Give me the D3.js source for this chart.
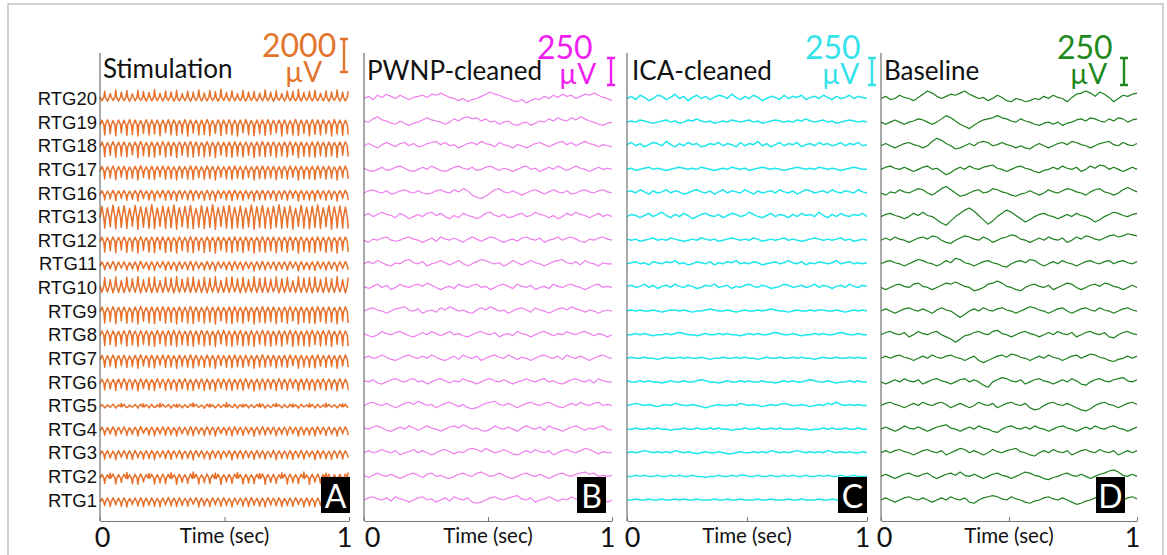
<!DOCTYPE html>
<html><head><meta charset="utf-8">
<script src="https://cdn.jsdelivr.net/npm/d3@7"></script>
<style>body{margin:0;background:#fff}</style>
</head><body>
<svg id="c" width="1167" height="555"></svg>
<script>
// ---------------- DATA ----------------
const channels = ["RTG20","RTG19","RTG18","RTG17","RTG16","RTG13","RTG12","RTG11","RTG10","RTG9","RTG8","RTG7","RTG6","RTG5","RTG4","RTG3","RTG2","RTG1"];
const panelTitles = ["Stimulation","PWNP-cleaned","ICA-cleaned","Baseline"];
const panelLetters = ["A","B","C","D"];
const scaleBarUV = [2000, 250, 250, 250];
const timeDomain = [0, 1];
const tickValues = [0, 0.5, 1];
const tickLabels = ["0", "", "1"];
const axisTitle = "Time (sec)";
const UNIT_UV = 10; // all trace values below are in units of 10 µV
// stimulation traces are stored as 4 samples per stimulation cycle, taken at these fractions of the cycle
const stimSampleFrac = [0, 0.35, 0.7, 0.85];

// Stimulation traces (rows RTG20 ... RTG1)
const stimData = [
[10,-14,8,44,8,-16,10,30,12,-12,10,52,6,-15,8,38,11,-13,9,48,9,-17,11,28,12,-14,10,50,7,-12,9,42,10,-16,12,36,13,-14,11,54,8,-13,10,32,11,-15,9,46,9,-12,11,40,12,-17,10,50,6,-14,8,30,10,-13,12,44,11,-16,9,38,8,-12,10,52,12,-15,10,34,9,-14,11,48,10,-13,8,42,7,-16,9,56,11,-12,13,36,9,-15,11,46,12,-14,10,30,8,-13,10,50,10,-17,12,40,11,-12,9,44,6,-15,8,34,12,-14,10,52,9,-13,11,38,10,-16,8,48,8,-12,10,30,11,-15,13,46,12,-13,10,42,7,-14,9,54,10,-16,12,36,9,-12,11,44,11,-15,9,50,8,-13,10,32,12,-14,10,46,10,-17,8,40,9,-12,11,52,11,-15,9,38,8,-14,10,44],
[-18,12,-16,-78,-16,14,-18,-70,-20,10,-18,-82,-17,13,-15,-66,-18,11,-20,-80,-15,15,-17,-74,-19,12,-17,-84,-16,10,-18,-68,-18,14,-16,-78,-20,12,-18,-72,-15,13,-17,-82,-17,11,-15,-64,-18,15,-20,-76,-16,12,-14,-80,-19,10,-17,-70,-17,14,-19,-84,-18,13,-16,-66,-15,11,-17,-78,-20,12,-18,-74,-16,15,-14,-82,-18,10,-20,-68,-17,13,-15,-80,-19,12,-17,-72,-15,14,-17,-78,-18,11,-16,-84,-16,12,-18,-64,-20,15,-18,-76,-17,10,-15,-82,-18,13,-20,-70,-15,12,-17,-80,-19,14,-17,-74,-16,11,-18,-66,-18,12,-16,-84,-17,13,-19,-72,-20,10,-18,-78,-15,15,-17,-80,-18,12,-16,-68,-16,11,-18,-82,-19,14,-17,-74,-17,12,-19,-78,-18,13,-16,-70,-15,10,-17,-84,-20,15,-18,-72,-16,12,-18,-80,-18,11,-16,-76],
[-6,22,-8,-66,-8,20,-6,-58,-4,24,-6,-70,-7,21,-5,-62,-5,23,-7,-68,-9,19,-7,-54,-6,22,-4,-72,-4,25,-6,-60,-8,20,-6,-66,-6,23,-8,-70,-5,21,-7,-56,-7,24,-5,-68,-9,22,-7,-62,-4,20,-6,-72,-6,23,-4,-58,-8,21,-6,-66,-5,25,-7,-70,-7,22,-9,-60,-6,19,-4,-68,-4,24,-6,-64,-8,21,-6,-72,-5,23,-7,-56,-7,20,-5,-66,-6,22,-8,-70,-9,24,-7,-62,-4,21,-6,-68,-6,23,-4,-58,-8,20,-6,-72,-5,22,-7,-64,-7,25,-5,-66,-6,21,-8,-60,-4,23,-6,-70,-9,20,-7,-62,-6,22,-4,-68,-5,24,-7,-56,-7,21,-5,-72,-8,23,-6,-64,-4,19,-6,-66,-6,22,-8,-70,-7,24,-5,-60,-5,21,-7,-68,-9,23,-7,-62,-6,20,-4,-72,-4,22,-6,-58,-7,24,-5,-66],
[-10,18,-12,-58,-12,16,-10,-52,-8,20,-10,-62,-11,17,-9,-48,-9,19,-11,-60,-12,15,-10,-54,-10,18,-8,-64,-8,21,-10,-50,-11,16,-9,-58,-9,19,-11,-62,-12,17,-10,-46,-10,20,-12,-60,-8,18,-10,-56,-11,16,-9,-64,-10,19,-8,-52,-9,17,-11,-58,-12,21,-10,-62,-8,18,-10,-50,-10,15,-12,-60,-11,20,-9,-56,-9,17,-11,-64,-12,19,-10,-48,-10,16,-8,-58,-8,18,-10,-62,-11,20,-9,-54,-9,17,-11,-60,-12,19,-10,-50,-10,16,-8,-64,-8,18,-10,-56,-11,21,-9,-58,-9,17,-11,-52,-10,19,-12,-62,-12,16,-10,-54,-8,18,-10,-60,-11,20,-9,-48,-9,17,-11,-64,-10,19,-8,-56,-12,15,-10,-58,-8,18,-10,-62,-10,20,-12,-52,-11,17,-9,-60,-9,19,-11,-54,-12,16,-10,-64,-8,18,-10,-50,-10,20,-8,-58],
[-10,14,-12,-42,-12,12,-10,-36,-8,16,-10,-46,-11,13,-9,-32,-9,15,-11,-44,-12,11,-10,-38,-10,14,-8,-48,-8,17,-10,-34,-11,12,-9,-42,-9,15,-11,-46,-12,13,-10,-30,-10,16,-12,-44,-8,14,-10,-40,-11,12,-9,-48,-10,15,-8,-36,-9,13,-11,-42,-12,17,-10,-46,-8,14,-10,-34,-10,11,-12,-44,-11,16,-9,-40,-9,13,-11,-48,-12,15,-10,-32,-10,12,-8,-42,-8,14,-10,-46,-11,16,-9,-38,-9,13,-11,-44,-12,15,-10,-34,-10,12,-8,-48,-8,14,-10,-40,-11,17,-9,-42,-9,13,-11,-36,-10,15,-12,-46,-12,12,-10,-38,-8,14,-10,-44,-11,16,-9,-32,-9,13,-11,-48,-10,15,-8,-40,-12,11,-10,-42,-8,14,-10,-46,-10,16,-12,-36,-11,13,-9,-44,-9,15,-11,-38,-12,12,-10,-48,-8,14,-10,-34,-10,16,-8,-42],
[-8,62,-10,-70,-14,54,-12,-62,-4,70,-6,-74,-10,58,-8,-66,-6,66,-8,-72,-12,50,-10,-58,-8,68,-6,-76,-4,60,-6,-64,-10,56,-12,-70,-6,72,-4,-74,-14,52,-12,-60,-8,64,-10,-72,-6,58,-8,-68,-12,70,-10,-76,-4,54,-6,-62,-10,62,-8,-70,-8,68,-10,-74,-6,50,-4,-64,-14,66,-12,-72,-4,58,-6,-66,-10,72,-12,-76,-8,54,-6,-60,-6,62,-8,-70,-12,68,-10,-74,-4,56,-6,-68,-10,64,-8,-72,-8,52,-10,-62,-6,70,-4,-76,-14,60,-12,-66,-4,66,-6,-70,-10,54,-8,-74,-8,62,-6,-64,-6,72,-8,-72,-12,58,-10,-68,-4,64,-6,-76,-10,50,-12,-60,-8,68,-6,-70,-6,56,-8,-74,-14,62,-12,-66,-4,70,-6,-72,-10,54,-8,-62,-8,66,-10,-76,-6,60,-4,-68,-12,64,-10,-70,-4,58,-6,-74],
[-10,18,-12,-72,-12,16,-10,-64,-8,20,-10,-76,-11,17,-9,-60,-9,19,-11,-74,-12,15,-10,-66,-10,18,-8,-78,-8,21,-10,-62,-11,16,-9,-72,-9,19,-11,-76,-12,17,-10,-58,-10,20,-12,-74,-8,18,-10,-68,-11,16,-9,-78,-10,19,-8,-64,-9,17,-11,-72,-12,21,-10,-76,-8,18,-10,-62,-10,15,-12,-74,-11,20,-9,-68,-9,17,-11,-78,-12,19,-10,-60,-10,16,-8,-72,-8,18,-10,-76,-11,20,-9,-66,-9,17,-11,-74,-12,19,-10,-62,-10,16,-8,-78,-8,18,-10,-68,-11,21,-9,-72,-9,17,-11,-64,-10,19,-12,-76,-12,16,-10,-66,-8,18,-10,-74,-11,20,-9,-60,-9,17,-11,-78,-10,19,-8,-68,-12,15,-10,-72,-8,18,-10,-76,-10,20,-12,-64,-11,17,-9,-74,-9,19,-11,-66,-12,16,-10,-78,-8,18,-10,-62,-10,20,-8,-72],
[-15,12,-13,-36,-16,10,-14,-30,-13,14,-15,-40,-17,11,-15,-26,-14,13,-16,-38,-16,9,-14,-32,-15,12,-17,-42,-13,15,-15,-28,-17,10,-15,-36,-14,13,-16,-40,-16,11,-14,-24,-15,14,-13,-38,-13,12,-15,-34,-17,10,-15,-42,-15,13,-17,-30,-14,11,-16,-36,-16,15,-14,-40,-13,12,-15,-28,-15,9,-13,-38,-17,14,-15,-34,-14,11,-16,-42,-16,13,-14,-26,-15,10,-17,-36,-13,12,-15,-40,-17,14,-15,-32,-14,11,-16,-38,-16,13,-14,-28,-15,10,-13,-42,-13,12,-15,-34,-17,15,-15,-36,-14,11,-16,-30,-15,13,-17,-40,-16,10,-14,-32,-13,12,-15,-38,-17,14,-15,-26,-14,11,-16,-42,-15,13,-13,-34,-16,9,-14,-36,-13,12,-15,-40,-15,14,-17,-30,-17,11,-15,-38,-14,13,-16,-32,-16,10,-14,-42,-13,12,-15,-28,-15,14,-13,-36],
[12,-30,10,60,10,-28,12,48,14,-32,12,64,11,-29,13,42,13,-31,11,62,9,-27,11,52,12,-30,14,66,15,-33,13,46,10,-28,12,60,13,-31,11,64,11,-29,13,40,14,-30,12,62,12,-27,10,56,10,-32,12,66,13,-30,11,50,11,-28,13,60,15,-31,13,64,12,-29,10,46,9,-30,11,62,14,-33,12,56,11,-28,13,66,13,-31,11,42,10,-29,12,60,12,-30,14,64,14,-27,12,52,11,-32,13,62,13,-30,11,46,10,-28,12,66,12,-31,10,56,15,-29,13,60,11,-30,13,50,13,-27,11,64,10,-32,12,52,12,-30,14,62,14,-28,12,40,11,-31,13,66,13,-29,11,56,9,-30,11,60,12,-33,10,64,14,-28,12,48,11,-31,13,62,13,-29,11,52,10,-30,12,66,12,-27,14,46,14,-32,12,60],
[-6,24,-8,-72,-8,22,-6,-64,-4,26,-6,-76,-7,23,-5,-60,-5,25,-7,-74,-9,21,-7,-66,-6,24,-4,-78,-4,27,-6,-62,-8,22,-6,-72,-6,25,-8,-76,-5,23,-7,-58,-7,26,-5,-74,-9,24,-7,-68,-4,22,-6,-78,-6,25,-4,-64,-8,23,-6,-72,-5,27,-7,-76,-7,24,-9,-62,-6,21,-4,-74,-4,26,-6,-68,-8,23,-6,-78,-5,25,-7,-60,-7,22,-5,-72,-6,24,-8,-76,-9,26,-7,-66,-4,23,-6,-74,-6,25,-4,-62,-8,22,-6,-78,-5,24,-7,-68,-7,27,-5,-72,-6,23,-8,-64,-4,25,-6,-76,-9,22,-7,-66,-6,24,-4,-74,-5,26,-7,-60,-7,23,-5,-78,-8,25,-6,-68,-4,21,-6,-72,-6,24,-8,-76,-7,26,-5,-64,-5,23,-7,-74,-9,25,-7,-66,-6,22,-4,-78,-4,24,-6,-62,-7,26,-5,-72],
[-6,22,-4,-66,-4,25,-6,-60,-8,23,-6,-70,-6,21,-8,-56,-5,24,-7,-68,-7,26,-5,-62,-4,22,-6,-72,-9,24,-7,-58,-6,23,-4,-66,-5,21,-7,-70,-7,25,-5,-54,-4,22,-6,-68,-8,24,-6,-64,-6,26,-8,-72,-5,23,-7,-60,-7,21,-5,-66,-4,24,-6,-70,-9,22,-7,-58,-6,25,-4,-68,-5,23,-7,-62,-8,21,-6,-72,-4,24,-6,-56,-7,26,-5,-66,-6,22,-8,-70,-9,23,-7,-60,-4,25,-6,-68,-6,21,-4,-64,-8,24,-6,-72,-5,22,-7,-58,-7,26,-5,-66,-4,23,-6,-70,-6,21,-8,-62,-9,24,-7,-68,-5,22,-7,-56,-7,25,-5,-72,-4,23,-6,-64,-8,21,-6,-66,-6,24,-4,-70,-5,26,-7,-60,-7,22,-5,-68,-4,23,-6,-62,-9,25,-7,-72,-6,21,-4,-58,-5,24,-7,-66,-7,22,-5,-70],
[-10,18,-12,-54,-12,16,-10,-48,-8,20,-10,-58,-11,17,-9,-44,-9,19,-11,-56,-12,15,-10,-50,-10,18,-8,-60,-8,21,-10,-46,-11,16,-9,-54,-9,19,-11,-58,-12,17,-10,-42,-10,20,-12,-56,-8,18,-10,-52,-11,16,-9,-60,-10,19,-8,-48,-9,17,-11,-54,-12,21,-10,-58,-8,18,-10,-46,-10,15,-12,-56,-11,20,-9,-52,-9,17,-11,-60,-12,19,-10,-44,-10,16,-8,-54,-8,18,-10,-58,-11,20,-9,-50,-9,17,-11,-56,-12,19,-10,-46,-10,16,-8,-60,-8,18,-10,-52,-11,21,-9,-54,-9,17,-11,-48,-10,19,-12,-58,-12,16,-10,-50,-8,18,-10,-56,-11,20,-9,-44,-9,17,-11,-60,-10,19,-8,-52,-12,15,-10,-54,-8,18,-10,-58,-10,20,-12,-48,-11,17,-9,-56,-9,19,-11,-50,-12,16,-10,-60,-8,18,-10,-46,-10,20,-8,-54],
[-10,16,-8,-48,-8,18,-10,-42,-12,15,-10,-52,-9,17,-11,-38,-11,19,-9,-50,-8,16,-10,-44,-10,14,-12,-54,-12,18,-10,-40,-9,17,-11,-48,-11,15,-9,-52,-8,19,-10,-36,-10,16,-8,-50,-12,18,-10,-46,-9,14,-11,-54,-11,17,-9,-42,-8,19,-10,-48,-10,15,-12,-52,-12,16,-10,-40,-9,18,-11,-50,-11,17,-9,-46,-8,14,-10,-54,-10,19,-8,-38,-12,16,-10,-48,-9,18,-11,-52,-11,15,-9,-44,-8,17,-10,-50,-10,19,-12,-40,-12,14,-10,-54,-9,16,-11,-46,-11,18,-9,-48,-8,17,-10,-42,-10,15,-8,-52,-12,19,-10,-44,-9,16,-11,-50,-11,18,-9,-38,-8,14,-10,-54,-10,17,-12,-46,-12,19,-10,-48,-9,15,-11,-52,-11,16,-9,-42,-8,18,-10,-50,-10,17,-8,-44,-12,14,-10,-54,-9,19,-11,-40,-11,16,-9,-48],
[-8,6,-6,-14,-10,4,-8,-10,-6,8,-8,-16,-9,5,-7,12,-7,7,-9,-12,-10,3,-8,-8,-8,6,-6,-16,-6,9,-8,10,-9,4,-7,-14,-7,7,-9,-12,-10,5,-8,14,-8,8,-6,-10,-6,6,-8,-16,-9,4,-7,8,-10,7,-8,-14,-7,5,-9,-12,-8,9,-6,16,-6,6,-8,-10,-9,3,-7,-16,-10,8,-8,10,-7,5,-9,-14,-8,7,-6,-12,-6,4,-8,18,-9,6,-7,-10,-10,8,-8,-16,-7,5,-9,8,-8,7,-6,-14,-6,4,-8,-12,-9,6,-7,12,-10,9,-8,-16,-7,5,-9,-10,-8,7,-6,14,-6,4,-8,-14,-9,6,-7,-12,-10,8,-8,10,-7,5,-9,-16,-8,7,-6,-8,-6,3,-8,12,-9,6,-7,-14,-10,8,-8,-12,-7,5,-9,16,-8,7,-6,-10,-6,4,-8,-14,-9,6,-7,10,-7,8,-9,-12],
[-12,12,-10,-36,-14,10,-12,-30,-10,14,-12,-40,-13,11,-11,-28,-11,13,-13,-38,-14,9,-12,-32,-12,12,-10,-42,-10,15,-12,-26,-13,10,-11,-36,-11,13,-13,-40,-14,11,-12,-30,-12,14,-10,-38,-10,12,-12,-34,-13,10,-11,-42,-12,13,-14,-28,-11,11,-13,-36,-14,15,-12,-40,-10,12,-12,-30,-12,9,-10,-38,-13,14,-11,-34,-11,11,-13,-42,-14,13,-12,-26,-12,10,-10,-36,-10,12,-12,-40,-13,14,-11,-32,-11,11,-13,-38,-14,13,-12,-28,-12,10,-10,-42,-10,12,-12,-34,-13,15,-11,-36,-11,11,-13,-30,-12,13,-14,-40,-14,10,-12,-32,-10,12,-12,-38,-13,14,-11,-28,-11,11,-13,-42,-12,13,-10,-34,-14,9,-12,-36,-10,12,-12,-40,-12,14,-14,-30,-13,11,-11,-38,-11,13,-13,-32,-14,10,-12,-42,-10,12,-12,-28,-12,14,-10,-36],
[-12,11,-10,-38,-10,13,-12,-32,-14,10,-12,-42,-11,12,-13,-28,-13,14,-11,-36,-10,11,-12,-40,-14,13,-12,-30,-12,9,-10,-38,-11,12,-13,-34,-13,14,-11,-42,-10,10,-12,-28,-14,12,-12,-36,-12,13,-10,-40,-11,11,-13,-30,-13,14,-11,-38,-10,10,-12,-34,-14,12,-12,-42,-12,13,-10,-26,-11,11,-13,-36,-13,9,-11,-40,-10,14,-12,-32,-14,12,-12,-38,-12,10,-10,-28,-11,13,-13,-42,-13,11,-11,-34,-10,14,-12,-36,-14,12,-12,-30,-12,10,-10,-40,-11,13,-13,-32,-13,11,-11,-38,-10,9,-12,-28,-14,14,-12,-42,-12,12,-10,-34,-11,10,-13,-36,-13,13,-11,-40,-10,11,-12,-30,-14,14,-12,-38,-12,12,-10,-26,-11,10,-13,-42,-13,13,-11,-34,-10,11,-12,-36,-14,9,-12,-40,-12,12,-10,-32,-11,14,-13,-38,-13,11,-11,-30],
[-12,12,-10,-42,-14,10,-12,20,-10,14,-12,-46,-13,11,-11,-36,-11,13,-13,24,-14,9,-12,-44,-12,12,-10,-48,-10,15,-12,-34,-13,10,-11,18,-11,13,-13,-46,-14,11,-12,-40,-12,14,-10,-44,-10,12,-12,22,-13,10,-11,-48,-12,13,-14,-36,-11,11,-13,-42,-14,15,-12,26,-10,12,-12,-46,-12,9,-10,-38,-13,14,-11,-44,-11,11,-13,20,-14,13,-12,-48,-12,10,-10,-34,-10,12,-12,-42,-13,14,-11,24,-11,11,-13,-46,-14,13,-12,-40,-12,10,-10,-44,-10,12,-12,18,-13,15,-11,-48,-11,11,-13,-36,-12,13,-14,-42,-14,10,-12,22,-10,12,-12,-46,-13,14,-11,-38,-11,11,-13,-44,-12,13,-10,26,-14,9,-12,-48,-10,12,-12,-34,-12,14,-14,-42,-13,11,-11,20,-11,13,-13,-46,-14,10,-12,-40,-10,12,-12,-44,-12,14,-10,24],
[-12,10,-14,-34,-10,12,-12,-40,-13,14,-11,-30,-11,11,-13,-38,-14,13,-12,-42,-12,9,-10,-28,-10,12,-12,-36,-13,14,-11,-40,-11,11,-13,-32,-14,13,-12,-38,-12,10,-10,-42,-10,12,-12,-30,-13,15,-11,-36,-11,11,-13,-40,-14,13,-12,-34,-12,10,-10,-38,-10,12,-12,-26,-13,14,-11,-42,-11,11,-13,-36,-14,9,-12,-40,-12,13,-10,-30,-10,12,-12,-38,-13,14,-11,-34,-11,10,-13,-42,-14,12,-12,-28,-12,11,-10,-36,-10,13,-12,-40,-13,15,-11,-32,-11,10,-13,-38,-14,12,-12,-42,-12,14,-10,-30,-10,11,-12,-36,-13,13,-11,-40,-11,9,-13,-34,-14,12,-12,-38,-12,14,-10,-28,-10,10,-12,-42,-13,13,-11,-36,-11,11,-13,-40,-14,12,-12,-32,-12,14,-10,-38,-10,10,-12,-34,-13,13,-11,-42,-11,11,-13,-30,-14,12,-12,-36]
];

// PWNP-cleaned traces
const pwnpData = [
[0,2,-1,3,1,4,2,0,3,1,-1,1,2,3,1,4,3,5,3,1,0,-2,0,-3,-1,0,2,4,6,4,3,1,0,-2,-3,-1,-4,-2,0,-1,2,0,3,1,4,2,3,0,2,4,3,5,3,1,0,-2],
[1,0,3,5,2,1,-1,-2,1,-1,-3,-1,0,2,4,2,1,0,-2,0,3,1,4,5,3,4,1,3,0,1,-2,0,1,-2,-3,-1,0,-3,-1,1,0,3,1,4,2,1,4,2,5,3,1,0,-2,-3,-1,0],
[0,2,0,-2,1,3,1,-1,2,3,0,2,-1,0,2,3,4,1,3,0,1,-2,0,2,3,1,4,2,1,-1,3,1,0,-2,1,0,-2,0,2,3,1,-1,1,3,4,1,3,0,2,4,2,1,-1,1,0,-1],
[1,-1,-2,0,2,-1,0,2,3,1,-1,-2,0,2,0,3,1,-1,-2,0,2,3,1,0,2,-1,0,2,3,1,-1,1,0,-2,0,2,3,0,1,-2,0,2,0,3,1,-1,1,3,1,0,-2,0,2,0,1,0],
[0,2,3,1,0,2,-1,0,2,3,1,0,2,0,-1,0,2,3,1,0,3,1,4,2,-2,-4,-5,-3,0,3,4,1,0,2,0,-2,0,2,3,1,-1,1,3,1,0,2,-1,0,2,3,1,0,2,3,1,0],
[1,3,0,2,4,2,1,-1,3,1,-2,0,2,0,3,4,1,3,0,-2,1,-1,3,1,0,-2,0,3,4,1,0,2,-1,0,2,3,0,1,4,2,1,-1,1,-2,0,3,1,4,2,1,-1,1,3,0,2,0],
[0,-2,1,0,2,3,0,-1,0,2,3,1,0,-2,0,2,-1,3,1,0,2,0,-2,1,3,1,-1,1,3,2,0,-2,0,1,-1,2,3,1,0,2,-2,0,1,3,0,2,3,1,-1,-2,1,0,2,3,1,0],
[0,2,0,3,1,-1,-2,1,0,3,4,1,0,2,-2,0,1,3,1,-1,1,3,0,-2,0,2,4,3,1,0,1,-2,0,3,1,-1,1,3,1,0,-2,0,2,3,4,1,0,2,-1,3,1,0,-2,1,0,0],
[1,-1,1,3,0,2,-2,0,3,1,0,2,3,1,4,2,0,-2,0,1,-1,3,1,0,2,3,0,1,-2,0,2,3,1,-1,3,1,0,2,-2,0,1,-1,3,1,0,2,3,1,0,-2,0,2,3,0,1,0],
[0,2,3,1,0,-2,0,2,3,4,1,0,2,-2,0,1,-1,3,1,4,2,0,1,-1,-2,1,3,1,4,2,0,1,-2,0,2,3,1,-1,3,1,0,-2,0,2,3,1,4,2,1,-1,1,0,-2,0,1,0],
[1,-1,-2,0,3,1,0,2,3,1,-1,-2,0,2,0,3,1,-1,1,3,0,1,-1,-2,0,2,3,1,0,2,-2,0,1,-1,3,1,0,-2,0,2,3,1,-1,1,0,3,1,0,2,3,1,-1,1,0,-2,0],
[0,2,0,1,3,1,-1,-2,0,2,3,1,0,2,0,3,1,-1,-2,0,2,-1,3,1,0,2,-2,0,2,3,1,0,3,1,-1,1,0,-2,0,2,3,1,0,2,-1,3,1,0,2,0,-2,0,2,3,1,0],
[1,0,2,-1,-2,0,2,3,1,0,2,3,0,1,-2,0,2,3,1,-1,1,0,3,1,0,-2,0,2,3,1,0,2,0,-2,0,1,3,1,0,2,3,0,1,-1,-2,0,2,3,1,0,2,-1,3,1,0,0],
[0,2,3,1,0,2,0,-2,0,2,3,1,4,2,0,1,-2,0,2,3,1,-1,1,-2,-3,-2,0,2,3,4,1,0,2,0,-2,0,2,3,1,0,2,3,1,-1,-2,0,2,0,3,1,0,2,3,0,1,0],
[1,0,2,3,1,-1,-2,0,2,0,3,1,-1,1,3,1,0,-2,0,2,3,1,4,2,0,1,-1,-2,0,3,1,0,2,0,-2,1,3,1,0,2,-1,3,1,0,-2,0,2,3,1,-1,1,0,2,3,0,-1],
[0,2,0,1,3,1,0,2,-2,0,1,3,0,2,0,-2,0,2,3,1,-1,1,0,3,4,3,1,4,2,0,1,3,1,-1,-2,0,2,0,3,1,0,2,-2,0,2,3,1,0,2,4,3,1,-1,1,0,0],
[1,-1,1,3,1,0,2,0,-2,0,2,3,1,-1,2,3,0,1,-1,-2,0,2,3,1,0,3,4,2,0,1,3,1,-1,-2,0,2,3,1,0,2,0,-2,0,2,3,1,0,2,3,4,2,3,0,1,0,1],
[0,2,3,1,0,2,-1,3,1,0,-2,0,2,3,0,1,-2,0,2,-1,3,1,0,2,-2,-3,-2,0,2,3,1,0,2,3,4,1,0,2,-2,0,1,3,1,-1,1,0,3,1,0,2,3,1,0,2,-2,0]
];

// ICA-cleaned traces
const icaData = [
[0,2,-1,3,1,-2,0,3,2,-1,1,4,0,2,-2,1,3,0,2,-1,1,3,2,0,4,1,-1,2,0,3,1,-2,0,2,1,-1,3,0,2,1,3,-1,1,2,0,3,1,-1,2,0,1,3,0,2,1,0],
[0,1,0,2,1,0,-1,0,1,2,0,1,-1,0,2,1,3,1,0,1,-1,0,1,0,2,1,0,1,2,0,1,-1,0,1,2,1,0,1,0,2,1,3,1,0,1,2,0,1,-1,0,1,2,1,0,1,0],
[1,3,0,2,-1,1,3,2,0,4,1,-1,2,0,3,1,2,-1,0,2,1,3,0,2,1,-1,3,0,2,1,4,0,2,-1,1,3,0,2,1,3,-1,1,2,0,3,1,2,0,1,3,0,2,1,3,0,1],
[0,1,-1,0,1,2,0,1,0,-1,0,1,2,1,0,1,0,2,1,0,-1,0,1,0,2,1,0,1,-1,0,1,2,1,0,1,0,-1,0,1,2,1,0,1,0,2,1,0,1,0,-1,0,1,2,1,0,0],
[1,2,0,3,1,-1,2,0,1,3,0,2,1,-1,0,2,3,1,0,2,-1,1,3,0,2,1,0,3,1,-1,2,0,1,2,0,3,1,0,2,-1,1,3,2,0,1,2,0,3,1,0,2,1,0,3,1,0],
[0,2,1,-1,1,3,0,2,4,1,-1,2,0,3,1,-2,0,2,3,1,0,2,-1,1,3,2,0,1,4,2,0,-1,1,3,0,2,1,-1,2,0,3,1,2,0,4,1,-1,2,0,3,1,0,2,1,3,0],
[1,0,1,-1,0,1,2,0,1,0,2,1,0,-1,0,1,0,2,1,0,1,-1,0,1,2,1,0,1,0,2,1,-1,0,1,0,1,2,0,1,0,-1,0,1,2,1,0,1,0,1,2,0,1,-1,0,1,0],
[0,1,2,0,1,-1,2,1,0,2,1,3,0,1,-1,0,2,1,0,2,-1,1,0,2,1,3,0,1,0,2,1,-1,0,1,2,0,1,3,1,0,2,-1,1,0,2,1,0,1,3,0,1,2,0,1,0,1],
[1,2,0,1,3,0,2,-1,1,2,0,3,1,0,2,1,-1,0,2,1,3,0,1,2,-1,1,0,2,3,1,0,2,1,-1,0,1,3,2,0,1,2,0,1,3,0,2,1,-1,1,2,0,3,1,0,2,1],
[0,1,0,1,0,0,1,0,-1,0,1,1,0,1,0,-1,0,0,1,2,1,0,0,1,0,-1,0,1,0,0,1,0,1,2,1,0,0,-1,0,1,0,0,1,0,1,1,0,0,1,0,-1,0,1,0,1,0],
[0,0,1,0,1,0,-1,0,0,1,0,1,2,1,0,0,-1,0,1,0,0,1,0,1,0,0,-1,0,1,0,1,0,0,1,2,1,0,0,1,0,-1,0,0,1,0,1,0,0,1,2,1,0,0,1,0,0],
[0,1,0,0,1,0,0,-1,0,1,0,0,1,0,1,0,0,1,0,-1,0,0,1,0,0,1,0,1,0,0,-1,0,1,0,0,1,0,0,1,0,1,0,0,-1,0,1,0,0,1,0,0,1,0,1,0,0],
[1,0,0,1,0,1,0,0,-1,0,1,0,0,1,0,0,1,2,1,0,0,-1,0,1,0,0,1,0,1,0,0,1,0,0,-1,0,1,0,1,0,0,1,2,1,0,0,1,0,-1,0,0,1,0,1,0,0],
[0,1,2,1,0,1,0,-1,0,1,0,2,1,0,0,1,0,-1,-2,-1,0,1,0,0,1,0,2,1,0,1,0,-1,0,1,0,1,2,1,0,0,1,0,-1,0,1,0,2,1,3,1,0,1,0,1,0,0],
[0,0,1,0,0,1,0,1,0,0,-1,0,0,1,0,0,1,0,0,1,0,1,0,0,-1,0,0,1,0,0,1,0,0,1,0,1,0,0,0,1,0,0,-1,0,0,1,0,1,0,0,1,0,0,1,0,0],
[0,1,0,1,2,1,0,1,0,1,0,2,1,0,1,0,-1,0,1,0,0,1,0,-1,-1,0,1,0,0,1,0,1,0,2,1,0,1,0,1,2,1,0,1,0,1,0,2,1,0,1,0,1,0,0,1,0],
[0,0,1,0,1,0,0,1,0,0,1,0,1,0,0,1,0,0,-1,0,0,1,0,0,1,0,1,1,0,0,1,0,0,1,0,0,1,0,1,0,0,1,0,0,1,0,1,0,0,1,0,0,1,0,0,0],
[0,0,1,0,0,1,0,0,1,0,0,1,0,1,0,0,1,0,0,0,1,0,0,1,0,0,1,0,0,0,1,0,0,1,0,0,0,1,0,0,1,0,0,0,1,0,0,1,0,0,0,1,0,0,1,0]
];

// Baseline traces
const baseData = [
[0,2,-1,0,3,1,0,-2,1,4,7,5,2,0,2,4,3,5,7,4,2,0,1,-2,0,3,1,-2,-3,0,-1,-3,-2,0,-1,2,0,3,1,0,-3,1,4,5,7,5,2,6,4,1,-3,0,3,2,4,5],
[0,-2,0,2,0,-2,0,1,3,2,0,-2,0,3,6,4,1,-2,-4,-6,-3,0,2,3,4,6,4,3,1,0,3,1,0,-2,-3,-1,0,-2,0,-3,-1,0,2,3,1,4,3,1,0,3,1,4,3,0,2,3],
[0,2,0,-2,0,2,3,1,0,-2,0,4,7,5,2,0,-3,-2,0,2,0,3,4,3,0,1,3,1,0,-2,0,-2,-3,0,2,0,-2,0,2,3,1,4,3,1,0,-2,0,2,3,4,1,0,3,1,0,2],
[0,2,3,1,0,2,0,-2,0,2,3,0,1,-2,-5,-3,0,2,0,3,1,0,2,3,4,1,0,-2,0,2,3,1,0,-2,-3,-1,0,2,0,3,1,0,2,-2,0,3,1,4,3,0,2,0,-2,0,2,0],
[0,-2,1,0,3,1,0,2,4,3,0,-2,1,4,6,3,0,-3,-2,0,2,3,0,1,4,3,1,0,-2,-3,-1,0,2,0,-2,0,3,1,0,2,4,3,1,0,-2,1,3,4,1,0,-2,0,3,5,3,1],
[0,2,3,1,0,-2,0,3,1,4,1,0,-3,-6,-8,-4,0,3,6,8,5,1,-3,-7,-4,0,3,6,4,1,-2,-5,-3,0,2,3,1,0,-2,0,2,0,3,1,0,-2,-5,-3,0,2,4,3,1,0,2,3],
[0,2,0,3,1,0,-2,0,2,3,1,4,3,0,-2,-3,0,2,4,3,1,0,3,1,-2,0,2,3,5,4,1,0,-2,0,2,0,3,1,0,2,-2,0,3,1,4,3,1,0,2,4,5,3,4,6,5,4],
[0,2,3,1,0,-2,0,2,4,3,1,0,-2,0,3,1,5,4,1,0,-2,0,2,3,1,0,-2,-3,0,2,3,1,4,3,0,-2,0,2,0,3,1,0,-2,0,2,3,1,0,2,3,0,2,3,1,0,2],
[0,-2,0,2,3,1,0,3,4,1,0,-2,0,2,4,3,5,3,1,0,-3,-2,0,3,4,6,4,1,0,-2,-3,0,2,3,1,0,2,-2,0,2,4,3,0,-2,0,2,3,1,4,3,1,0,-2,0,2,0],
[0,2,0,-2,0,2,3,1,0,2,0,-2,1,3,1,0,-3,-6,-3,0,2,0,3,1,0,2,3,1,0,-2,0,2,4,3,1,0,-2,0,2,3,0,-2,0,2,3,1,0,3,1,0,-2,0,2,3,1,0],
[0,2,3,1,0,2,-2,0,3,1,0,2,3,0,-2,-4,-7,-4,-1,0,2,3,1,0,3,4,1,0,-2,0,2,3,1,0,-2,0,2,0,3,1,0,2,-2,0,2,3,1,0,2,-2,-3,0,2,3,1,0],
[0,2,0,2,3,1,0,-2,0,2,0,3,1,0,2,3,1,0,-2,0,2,-2,-4,-2,0,2,3,1,4,3,1,0,-2,0,2,0,3,1,0,-2,0,2,3,0,2,4,3,1,0,-2,-3,-1,0,2,0,2],
[0,-2,0,2,0,3,1,0,2,-2,0,2,3,1,0,-2,0,2,3,0,2,0,-3,-5,0,2,4,3,1,0,2,-2,0,2,3,1,0,-2,0,2,0,3,1,-2,-3,0,2,3,1,0,2,3,4,1,0,2],
[0,2,3,1,0,-2,0,2,0,3,1,0,2,3,1,-2,0,2,0,-2,0,3,1,0,2,-2,0,2,3,1,0,2,-2,-4,-3,0,2,3,1,0,2,0,-2,-4,-5,-3,0,2,3,1,0,-2,0,2,3,1],
[0,2,0,-2,0,3,1,0,2,0,-2,0,2,3,4,1,0,-2,0,2,0,3,1,0,-2,-3,0,2,3,1,0,2,0,3,1,0,-2,0,2,3,1,0,-2,0,2,0,3,1,0,2,3,1,0,-2,0,2],
[0,2,0,2,3,1,0,-2,0,2,3,1,0,2,-2,0,2,4,3,0,2,0,-2,0,3,1,0,2,3,4,1,0,-2,-3,0,2,0,3,1,0,2,-2,0,2,3,1,0,3,1,0,2,-2,0,2,0,2],
[0,2,0,-2,0,2,3,1,0,2,3,0,-2,0,2,3,1,4,1,0,2,0,-2,0,2,3,1,0,-2,0,2,4,3,1,0,-2,-3,-1,0,2,3,1,0,2,0,-2,0,2,3,5,6,4,1,0,2,0],
[0,2,0,-2,0,2,3,1,0,2,0,-2,0,2,0,3,1,0,2,-2,-3,0,2,3,4,3,1,0,3,1,0,-2,-3,-1,0,2,3,1,0,2,0,-2,-4,-3,-1,0,2,3,1,4,3,1,0,2,3,1]
];

// ---------------- LAYOUT / STYLE ----------------
const panelData = [stimData, pwnpData, icaData, baseData];
const traceColors = ["#E8712B", "#EE7DEE", "#1FE6EC", "#1E7F1E"];
const labelColors = ["#E2742C", "#F01EF0", "#35E2EA", "#1E8A1E"];
const traceWidths = [1.5, 1.2, 1.5, 1.2];
const layout = [
  {x0:100, x1:349, titleX:103, titleY:78, numX:262, numY:57, uvX:285, uvY:82, barX:344, barTop:39, barBot:72, boxX:321, zeroDx:2},
  {x0:364, x1:612, titleX:367, titleY:80, numX:537, numY:59, uvX:559, uvY:84, barX:611, barTop:58, barBot:85, boxX:577, zeroDx:8},
  {x0:627, x1:867, titleX:632, titleY:80, numX:805, numY:59, uvX:822, uvY:84, barX:872, barTop:58, barBot:85, boxX:838, zeroDx:5},
  {x0:881, x1:1137, titleX:884, titleY:80, numX:1057, numY:59, uvX:1070, uvY:84, barX:1124, barTop:58, barBot:85, boxX:1096, zeroDx:3}
];
const axisY = 521, axisTop = 53;
const humanist = "Lato, 'Open Sans', sans-serif";

const svg = d3.select("#c");
svg.append("rect").attr("x",8).attr("y",4).attr("width",1155).attr("height",600)
  .attr("fill","none").attr("stroke","#c4c4c4").attr("stroke-width",1.5);

const rowY = d3.scalePoint().domain(channels).range([98.5, 500]);

svg.append("g").selectAll("text").data(channels).join("text")
  .attr("x", 97).attr("y", d => rowY(d)).attr("dy", "0.36em").attr("text-anchor", "end")
  .style("font-family", "'Liberation Sans', Arial, sans-serif").style("font-size", "18.5px")
  .attr("fill", "#111").text(d => d);

// sample time (s) of the i-th value of a trace
const span = timeDomain[1] - timeDomain[0];
const uniformTime = (i, arr) => timeDomain[0] + span * i / (arr.length - 1);
const stimTime = (i, arr) => {
  const per = stimSampleFrac.length, nCycles = arr.length / per;
  return timeDomain[0] + span * (Math.floor(i / per) + stimSampleFrac[i % per]) / nCycles;
};

layout.forEach((p, pi) => {
  const g = svg.append("g");
  const x = d3.scaleLinear().domain(timeDomain).range([p.x0, p.x1]);
  const amp = d3.scaleLinear().domain([0, scaleBarUV[pi]]).range([0, p.barBot - p.barTop]);
  const timeOf = pi === 0 ? stimTime : uniformTime;

  // traces
  const line = d3.line()
    .x((d, i, arr) => x(timeOf(i, arr)))
    .y(d => -amp(d * UNIT_UV));
  g.append("g").selectAll("path").data(panelData[pi]).join("path")
    .attr("transform", (d, i) => `translate(0,${rowY(channels[i])})`)
    .attr("d", d => line(d))
    .attr("fill", "none").attr("stroke", traceColors[pi])
    .attr("stroke-width", traceWidths[pi]).attr("stroke-linejoin", "round");

  // left axis line
  g.append("line").attr("x1", p.x0).attr("x2", p.x0).attr("y1", axisTop).attr("y2", axisY)
    .attr("stroke", "#555").attr("stroke-width", 1);

  // bottom axis
  const ax = d3.axisBottom(x).tickValues(tickValues).tickSizeInner(-4).tickSizeOuter(0)
    .tickPadding(7).tickFormat((d, i) => tickLabels[i]);
  const axg = g.append("g").attr("transform", `translate(0,${axisY})`).call(ax);
  axg.select(".domain").attr("stroke", "#777");
  axg.selectAll(".tick line").attr("stroke", "#777");
  axg.selectAll(".tick text").style("font-family", humanist).style("font-size", "27px")
    .attr("fill", "#111").attr("dx", (d, i) => i === 0 ? p.zeroDx : (i === 2 ? -5 : 0));

  g.append("text").attr("x", (p.x0 + p.x1) / 2).attr("y", 543).attr("text-anchor", "middle")
    .style("font-family", humanist).style("font-size", "20.5px").attr("fill", "#111").text(axisTitle);

  // title
  g.append("text").attr("x", p.titleX).attr("y", p.titleY)
    .style("font-family", humanist).style("font-size", "26px").attr("fill", "#111").text(panelTitles[pi]);

  // scale annotation (value over unit, one text element)
  const st = g.append("text").style("font-family", humanist).attr("fill", labelColors[pi]);
  st.append("tspan").attr("x", p.numX).attr("y", p.numY).style("font-size", "32px").text(scaleBarUV[pi]);
  st.append("tspan").attr("x", p.uvX).attr("y", p.uvY).style("font-size", "28px").text("\u00B5V");
  const barLen = amp(scaleBarUV[pi]);
  g.append("path")
    .attr("d", `M${p.barX-4},${p.barTop}H${p.barX+4}M${p.barX},${p.barTop}V${p.barTop+barLen}M${p.barX-4},${p.barTop+barLen}H${p.barX+4}`)
    .attr("stroke", labelColors[pi]).attr("stroke-width", 2.4).attr("fill", "none");

  // panel letter
  g.append("rect").attr("x", p.boxX).attr("y", 477).attr("width", 29).attr("height", 36).attr("fill", "#000");
  g.append("text").attr("x", p.boxX + 14.5).attr("y", 508).attr("text-anchor", "middle")
    .style("font-family", humanist).style("font-size", "32px").attr("fill", "#fff").text(panelLetters[pi]);
});
</script>
</body></html>
